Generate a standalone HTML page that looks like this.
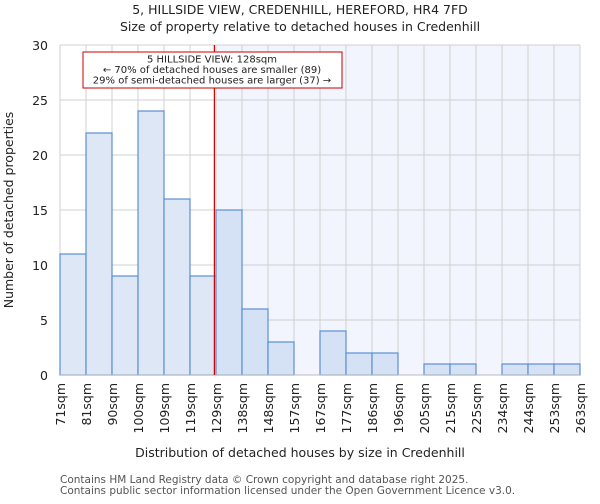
<!DOCTYPE html>
<html><head><meta charset="utf-8"><style>
body{margin:0;background:#fff;font-family:"DejaVu Sans","Liberation Sans",sans-serif;}
svg text{font-family:"DejaVu Sans","Liberation Sans",sans-serif;fill:#222;}
</style></head><body>
<svg id="chart" width="600" height="500">
<text x="300" y="14" text-anchor="middle" font-size="12.5">5, HILLSIDE VIEW, CREDENHILL, HEREFORD, HR4 7FD</text>
<text x="300" y="31" text-anchor="middle" font-size="12.5">Size of property relative to detached houses in Credenhill</text>
<g id="plot"></g>
<text x="300" y="457" text-anchor="middle" font-size="12.5">Distribution of detached houses by size in Credenhill</text>
<text transform="translate(13,210) rotate(-90)" text-anchor="middle" font-size="12.5">Number of detached properties</text>
<text x="60" y="483" font-size="10.5" style="fill:#555">Contains HM Land Registry data © Crown copyright and database right 2025.</text>
<text x="60" y="494" font-size="10.5" style="fill:#555">Contains public sector information licensed under the Open Government Licence v3.0.</text>
</svg>
<script>
const categories=["71sqm","81sqm","90sqm","100sqm","109sqm","119sqm","129sqm","138sqm","148sqm","157sqm","167sqm","177sqm","186sqm","196sqm","205sqm","215sqm","225sqm","234sqm","244sqm","253sqm","263sqm"];
const counts=[11,22,9,24,16,9,15,6,3,0,4,2,2,0,1,1,0,1,1,1];
const yTicks=[0,5,10,15,20,25,30];
const propertySize=128;
const binStart=71, binEnd=263;
const X0=60,X1=580,Y0=375,Y1=45,YMAX=30;
const bw=(X1-X0)/counts.length;
const xs=i=>X0+i*bw;
const ys=v=>Y0-(v/YMAX)*(Y0-Y1);
const xv=s=>X0+(s-binStart)/(binEnd-binStart)*(X1-X0);
const NS="http://www.w3.org/2000/svg";
const g=document.getElementById('plot');
function mk(t,a){const e=document.createElementNS(NS,t);for(const k in a)e.setAttribute(k,a[k]);g.appendChild(e);return e;}
const lx=xv(propertySize);
let e=mk('rect',{x:lx,y:Y1,width:X1-lx,height:Y0-Y1,fill:'#f2f5fd'});


for(let i=0;i<=counts.length;i++){e=mk('line',{x1:xs(i),x2:xs(i),y1:Y1,y2:Y0,stroke:'#d0d0d0','stroke-width':1});

}
yTicks.forEach(t=>{e=mk('line',{x1:X0,x2:X1,y1:ys(t),y2:ys(t),stroke:'#d0d0d0','stroke-width':1});


e=mk('text',{x:X0-12,y:ys(t)+5,'text-anchor':'end','font-size':'12.5'});e.textContent=t;

});
counts.forEach((v,i)=>{if(v<=0)return;const right=xs(i)>=lx;
e=mk('rect',{x:xs(i),y:ys(v),width:bw,height:Y0-ys(v),fill:right?'#d5e1f4':'#dde7f5',stroke:'#5b8fd6','stroke-width':1.2});

});
categories.forEach((c,i)=>{e=mk('text',{transform:`translate(${xs(i)+5},${Y0+8}) rotate(-90)`,'text-anchor':'end','font-size':'12.5'});e.textContent=c;

});
e=mk('line',{x1:X0,x2:X1,y1:Y0,y2:Y0,stroke:'#bbb','stroke-width':1});


e=mk('line',{x1:lx,x2:lx,y1:Y1,y2:Y0,stroke:'#cc0000','stroke-width':1.2});


e=mk('rect',{x:83,y:52,width:259,height:36,fill:'#fff',stroke:'#cc0000','stroke-width':1});


["5 HILLSIDE VIEW: 128sqm","← 70% of detached houses are smaller (89)","29% of semi-detached houses are larger (37) →"].forEach((t,k)=>{
e=mk('text',{x:212,y:62.5+k*10.5,'text-anchor':'middle','font-size':'10'});e.textContent=t;

});
</script>
</body></html>
